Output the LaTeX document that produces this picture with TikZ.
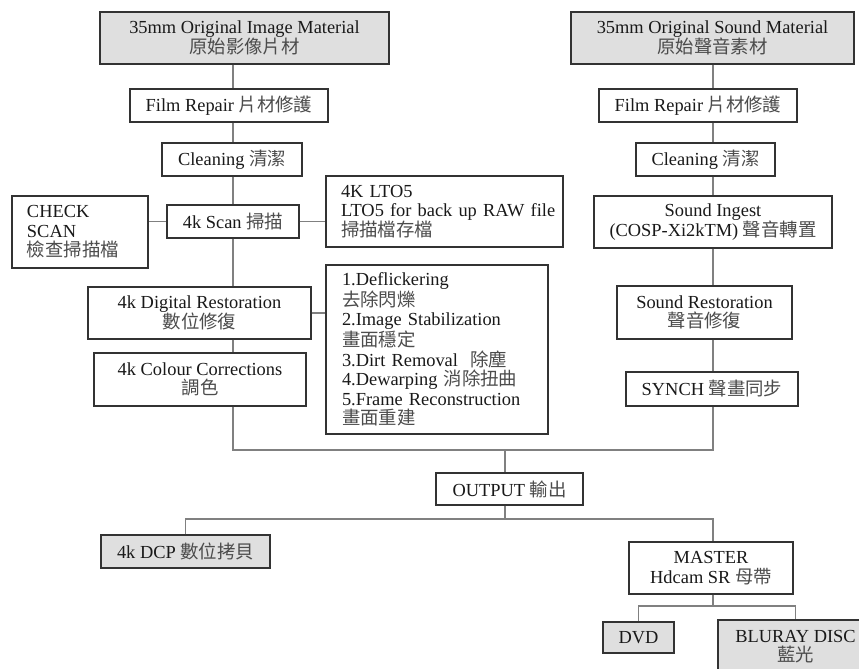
\documentclass[tikz,border=0pt]{standalone}
\usepackage{fontspec}
\setmainfont{Liberation Serif}
\newfontfamily\cjk{Noto Sans CJK TC}
\newcommand{\zhtxt}[1]{{\cjk\color{black!70}#1}}
\tikzset{
  stage/.style={draw=black!80,line width=1.1pt,fill=white,inner sep=0pt,
    align=center,text=black!90,font=\fontsize{18.4}{19.5}\selectfont},
  source/.style={stage,fill=gray!25},
  link/.style={draw=black!50,line width=1.1pt}
}
\begin{document}
\begin{tikzpicture}[x=1pt,y=-1pt]
  \useasboundingbox (0,0) rectangle (859,669);
  % image side
  \node[source,minimum width=289pt,minimum height=52pt] (imgsrc) at (244.5,38)
    {35mm Original Image Material\\\zhtxt{原始影像片材}};
  \node[stage,minimum width=198pt,minimum height=33pt] (repairL) at (229,105.5)
    {Film Repair \zhtxt{片材修護}};
  \node[stage,minimum width=140pt,minimum height=33pt] (cleanL) at (232,159.5)
    {Cleaning \zhtxt{清潔}};
  \node[stage,minimum width=132pt,minimum height=33pt] (scan) at (233,221.5)
    {4k Scan \zhtxt{掃描}};
  \node[stage,align=left,text width=106pt,inner xsep=15pt,minimum height=72pt] (check) at (80,232)
    {CHECK\\SCAN\\\zhtxt{檢查掃描檔}};
  \node[stage,align=left,text width=207pt,inner xsep=15pt,minimum height=71pt] (lto) at (444.5,211.5)
    {4K LTO5\\\mbox{LTO5 for back up RAW file}\\\zhtxt{掃描檔存檔}};
  \node[stage,minimum width=223pt,minimum height=52pt] (restore) at (199.5,313)
    {4k Digital Restoration\\\zhtxt{數位修復}};
  \node[stage,minimum width=212pt,minimum height=53pt] (colour) at (200,379.5)
    {4k Colour Corrections\\\zhtxt{調色}};
  \node[stage,align=left,text width=190pt,inner xsep=16pt,minimum height=169pt] (steps) at (437,349.5)
    {1.Deflickering\\\zhtxt{去除閃爍}\\2.Image Stabilization\\\zhtxt{畫面穩定}\\
     3.Dirt Removal\ \ \zhtxt{除塵}\\4.Dewarping \zhtxt{消除扭曲}\\
     \mbox{5.Frame Reconstruction}\\\zhtxt{畫面重建}};
  % sound side
  \node[source,minimum width=283pt,minimum height=52pt] (sndsrc) at (712.5,38)
    {35mm Original Sound Material\\\zhtxt{原始聲音素材}};
  \node[stage,minimum width=198pt,minimum height=33pt] (repairR) at (698,105.5)
    {Film Repair \zhtxt{片材修護}};
  \node[stage,minimum width=139pt,minimum height=33pt] (cleanR) at (705.5,159.5)
    {Cleaning \zhtxt{清潔}};
  \node[stage,minimum width=238pt,minimum height=52pt] (ingest) at (713,222)
    {Sound Ingest\\(COSP-Xi2kTM) \zhtxt{聲音轉置}};
  \node[stage,minimum width=175pt,minimum height=53pt] (sndrest) at (704.5,312.5)
    {Sound Restoration\\\zhtxt{聲音修復}};
  \node[stage,minimum width=172pt,minimum height=34pt] (synch) at (712,389)
    {SYNCH \zhtxt{聲畫同步}};
  % output
  \node[stage,minimum width=147pt,minimum height=32pt] (output) at (509.5,489)
    {OUTPUT \zhtxt{輸出}};
  \node[source,minimum width=169pt,minimum height=33pt] (dcp) at (185.5,551.5)
    {4k DCP \zhtxt{數位拷貝}};
  \node[stage,minimum width=164pt,minimum height=52pt] (master) at (711,568)
    {MASTER\\Hdcam SR \zhtxt{母帶}};
  \node[source,minimum width=71pt,minimum height=31pt] (dvd) at (638.5,637.5)
    {DVD};
  \node[source,minimum width=155pt,minimum height=70pt,text depth=18pt] (bluray) at (795.5,655)
    {BLURAY DISC\\\zhtxt{藍光}};
  \coordinate (join) at (505,450);
  \coordinate (split) at (505,519);
  \coordinate (fork) at (713,606);
  % connectors
  \draw[link] (imgsrc.south -| scan) -- (repairL.north -| scan);
  \draw[link] (repairL.south -| scan) -- (cleanL.north -| scan);
  \draw[link] (cleanL.south -| scan) -- (scan.north);
  \draw[link] (scan.south) -- (restore.north -| scan);
  \draw[link] (restore.south -| scan) -- (colour.north -| scan);
  \draw[link] (scan.west) -- (scan.west -| check.east);
  \draw[link] (scan.east) -- (scan.east -| lto.west);
  \draw[link] (restore.east) -- (restore.east -| steps.west);
  \draw[link] (sndsrc.south -| ingest) -- (repairR.north -| ingest);
  \draw[link] (repairR.south -| ingest) -- (cleanR.north -| ingest);
  \draw[link] (cleanR.south -| ingest) -- (ingest.north);
  \draw[link] (ingest.south) -- (sndrest.north -| ingest);
  \draw[link] (sndrest.south -| ingest) -- (synch.north -| ingest);
  \draw[link] (colour.south -| scan) |- (join) -| (synch.south -| ingest);
  \draw[link] (join) -- (join |- output.north);
  \draw[link] (join |- output.south) -- (split);
  \draw[link] (dcp.north) |- (split) -| (master.north -| fork);
  \draw[link] (master.south -| fork) -- (fork);
  \draw[link] (dvd.north) |- (fork) -| (bluray.north);
\end{tikzpicture}
\end{document}
